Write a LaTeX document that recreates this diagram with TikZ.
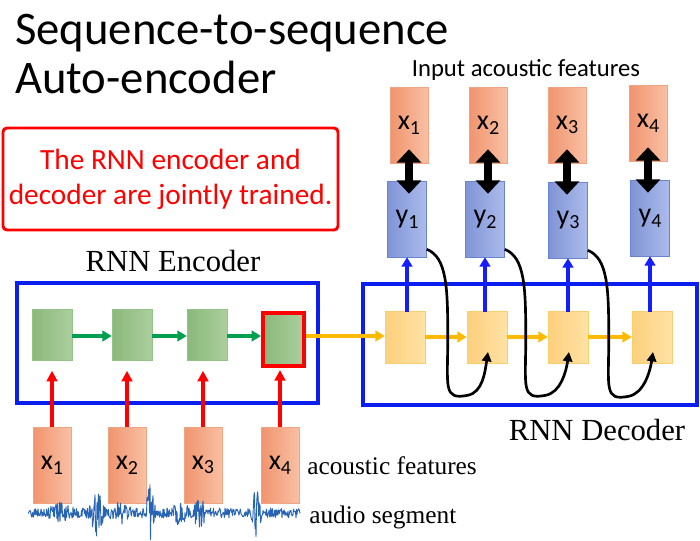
\documentclass[tikz,border=0pt]{standalone}
\usepackage{fontspec}
\setmainfont{Carlito}
\newfontfamily\serif{Liberation Serif}
\usetikzlibrary{arrows.meta,calc}
\definecolor{xl}{RGB}{240,148,110}
\definecolor{xr}{RGB}{249,192,164}
\definecolor{xb}{RGB}{240,165,130}
\definecolor{yl}{RGB}{128,148,214}
\definecolor{yr}{RGB}{172,188,236}
\definecolor{yb}{RGB}{105,132,210}
\definecolor{gl}{RGB}{138,184,122}
\definecolor{gr}{RGB}{172,206,158}
\definecolor{gb}{RGB}{150,195,135}
\definecolor{dl}{RGB}{252,208,125}
\definecolor{dr}{RGB}{255,226,165}
\definecolor{db}{RGB}{250,205,110}
\definecolor{frameblue}{RGB}{10,30,240}
\definecolor{arrblue}{RGB}{20,30,250}
\definecolor{gar}{RGB}{0,160,80}
\definecolor{oar}{RGB}{255,185,0}
\definecolor{wave}{RGB}{40,100,180}
\newcommand{\lab}[2]{#1\raisebox{-0.35ex}{\fontsize{15}{15}\selectfont #2}}
\begin{document}
\begin{tikzpicture}[x=0.75pt,y=-0.75pt,
  xbox/.style={draw=xb, left color=xl, right color=xr, minimum width=38*0.75pt, minimum height=76*0.75pt, inner sep=0pt, font=\fontsize{21}{21}\selectfont},
  ybox/.style={draw=yb, left color=yl, right color=yr, minimum width=39*0.75pt, minimum height=76*0.75pt, inner sep=0pt, font=\fontsize{21}{21}\selectfont},
  gbox/.style={draw=gb, left color=gl, right color=gr, minimum width=40*0.75pt, minimum height=51*0.75pt, inner sep=0pt},
  dbox/.style={draw=db, left color=dl, right color=dr, minimum width=40*0.75pt, minimum height=52*0.75pt, inner sep=0pt},
  frame/.style={draw=frameblue, line width=2.3pt, inner sep=0pt},
  dbl/.style={line width=6pt, {Triangle[width=18pt,length=10pt]}-{Triangle[width=18pt,length=10pt]}},
  barr/.style={draw=arrblue, line width=2.8pt, -{Triangle[width=8pt,length=7pt]}},
  rarr/.style={draw=red, line width=2.3pt, -{Triangle[width=8pt,length=8pt]}},
  garr/.style={draw=gar, line width=2.8pt, -{Triangle[width=8pt,length=7pt]}},
  oarr/.style={draw=oar, line width=2.8pt, -{Triangle[width=8pt,length=7pt]}},
  loopar/.style={draw=black, line width=2pt, -{Triangle[width=7pt,length=7pt]}},
  ]
\useasboundingbox (0,0) rectangle (700,540);

% title
\node[anchor=base west, inner sep=0pt, font=\fontsize{35}{35}\selectfont] (t1) at (15,44) {Sequence-to-sequence};
\node[anchor=base west, inner sep=0pt, font=\fontsize{35}{35}\selectfont] (t2) at (15,93) {Auto-encoder};

% note
\node[draw=red, line width=2.2pt, rounded corners=3pt, minimum width=335*0.75pt, minimum height=102*0.75pt,
  align=center, text=red, font=\fontsize{22}{26}\selectfont] (note) at (170.5,179) {The RNN encoder and\\decoder are jointly trained.};

% top: input acoustic features
\node[anchor=base, inner sep=0pt, font=\fontsize{18.5}{18.5}\selectfont] (inlab) at (526,76) {Input acoustic features};
\node[xbox] (tx1) at (409,125) {\lab{x}{1}};
\node[xbox] (tx2) at (488,125) {\lab{x}{2}};
\node[xbox] (tx3) at (567,125) {\lab{x}{3}};
\node[xbox] (tx4) at (648,123) {\lab{x}{4}};
\node[ybox] (y1) at (407,219) {\lab{y}{1}};
\node[ybox] (y2) at (485,219) {\lab{y}{2}};
\node[ybox] (y3) at (568,220) {\lab{y}{3}};
\node[ybox] (y4) at (650,218) {\lab{y}{4}};
\foreach \i in {1,2,3,4}{
  \draw[dbl] ($(tx\i.south)+(0,-14)$) -- ($(tx\i.south |- y\i.north)+(0,13)$);
}

% decoder
\node[frame, minimum width=334*0.75pt, minimum height=121*0.75pt] (dec) at (530,344.5) {};
\node[dbox] (d1) at (405,337) {};
\node[dbox] (d2) at (487,337) {};
\node[dbox] (d3) at (568,337) {};
\node[dbox] (d4) at (652,337) {};
\foreach \i in {1,2,3,4}{
  \draw[barr] (d\i.north -| y\i.south) ++(0,1) -- (y\i.south);
}
\draw[oarr] (d1) -- (d2);
\draw[oarr] (d2) -- (d3);
\draw[oarr] (d3) -- (d4);
\foreach \a/\b in {1/2,2/3,3/4}{
  \draw[loopar] ($(y\a.south east)+(0,-8)$) .. controls +(20,8) and +(0,-50) .. ($(y\a.south east)+(21,80)$)
     .. controls +(0,50) and +(-25,5) .. ($(y\a.south east)+(41,138)$)
     .. controls +(15,-3) and +(-3,20) .. ($(d\b.center)+(1,15)$);
}
\node[anchor=base, inner sep=0pt, font=\serif\fontsize{23}{23}\selectfont] (declab) at (597,440) {RNN Decoder};

% encoder
\node[anchor=base, inner sep=0pt, font=\serif\fontsize{23}{23}\selectfont] (enclab) at (173,271) {RNN Encoder};
\node[frame, minimum width=301*0.75pt, minimum height=120*0.75pt] (enc) at (167.5,343) {};
\node[gbox] (e1) at (52,335) {};
\node[gbox] (e2) at (132,335) {};
\node[gbox] (e3) at (207,335) {};
\node[gbox, draw=red, line width=3pt, minimum width=41*0.75pt, minimum height=53*0.75pt] (e4) at (283.5,339.5) {};
\draw[garr] (e1.east |- 0,336) -- (e2.west |- 0,336);
\draw[garr] (e2.east |- 0,336) -- (e3.west |- 0,336);
\draw[garr] (e3.east |- 0,336) -- (e4.west |- 0,336);
\draw[oarr] (e4.east |- 0,336) -- (d1.west |- 0,336);

% bottom acoustic features
\node[xbox] (bx1) at (52,465) {\lab{x}{1}};
\node[xbox] (bx2) at (127,465) {\lab{x}{2}};
\node[xbox] (bx3) at (203,465) {\lab{x}{3}};
\node[xbox] (bx4) at (280,465) {\lab{x}{4}};
\draw[rarr] (bx1.north) -- ($(bx1.north |- e1.south)+(0,10)$);
\draw[rarr] (bx2.north) -- ($(bx2.north |- e2.south)+(0,10)$);
\draw[rarr] (bx3.north) -- ($(bx3.north |- e3.south)+(0,10)$);
\draw[rarr] (bx4.north) -- ($(bx4.north |- e4.south)+(0,2)$);
\node[anchor=base west, inner sep=0pt, font=\serif\fontsize{19}{19}\selectfont] (aflab) at (307,474) {acoustic features};
\node[anchor=base west, inner sep=0pt, font=\serif\fontsize{19}{19}\selectfont] (aslab) at (309,523) {audio segment};

% waveform
\pgfmathsetseed{11}
\draw[wave, line width=0.7pt, line join=round] (28,513) \foreach \i in {28.5,29,...,300}{
  -- (\i,{513+rand*(5+20*max(0,1-abs(\i-97)/9)+26*max(0,1-abs(\i-150)/6)+14*max(0,1-abs(\i-200)/8)+22*max(0,1-abs(\i-256)/6)+10*max(0,1-abs(\i-180)/10)+8*max(0,1-abs(\i-120)/12)+6*max(0,1-abs(\i-60)/15))})
};
\end{tikzpicture}
\end{document}
